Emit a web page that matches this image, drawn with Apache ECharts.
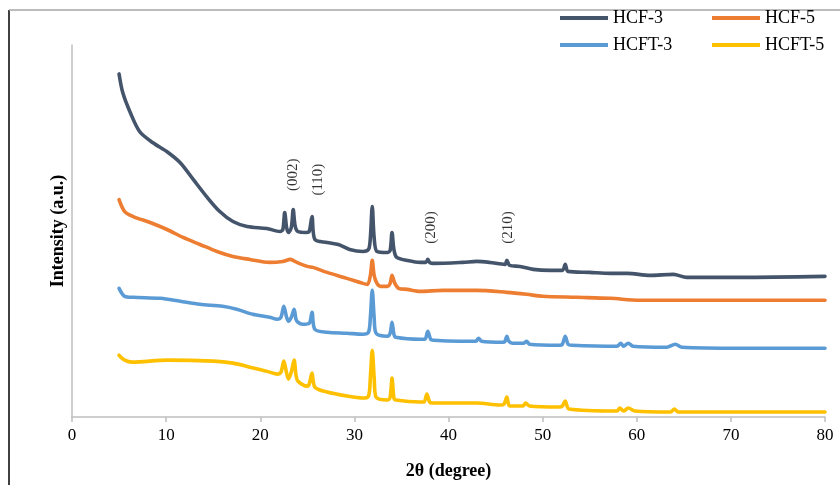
<!DOCTYPE html>
<html>
<head>
<meta charset="utf-8">
<script src="https://cdn.jsdelivr.net/npm/echarts@6/dist/echarts.min.js"></script>
<style>
  html, body { margin: 0; padding: 0; background: #fff; }
  #chart { width: 840px; height: 485px; }
</style>
</head>
<body>
<div id="chart"></div>
<script>
// XRD patterns, [2θ (degree), intensity (a.u., stacked offsets)]
const hcf3 = [
  [5.0, 344], [5.4, 325], [6.2, 305], [7.2, 286], [8.6, 275], [10.1, 266], [11.5, 255],
  [12.9, 238], [14.3, 221], [15.7, 206], [17.1, 196], [18.6, 191], [20.7, 189], [22.1, 186],
  [22.4, 188], [22.6, 205], [22.8, 190], [23.0, 185], [23.3, 190], [23.5, 208], [23.7, 192],
  [24.0, 186], [24.9, 185], [25.2, 186], [25.5, 201], [25.8, 178], [27.1, 175], [28.3, 173],
  [29.5, 168], [30.9, 166], [31.5, 168], [31.7, 180], [31.9, 211], [32.1, 180], [32.4, 166],
  [33.5, 165], [33.8, 167], [34.0, 185], [34.2, 168], [34.5, 160], [35.6, 157], [37.0, 155],
  [37.6, 155], [37.8, 158], [38.0, 155], [38.4, 154], [41.5, 155], [43.0, 156], [44.4, 155],
  [46.0, 153], [46.2, 157], [46.5, 152], [47.6, 151], [49.0, 148], [50.8, 147], [52.1, 147],
  [52.4, 153], [52.7, 146], [55.0, 145], [57.2, 144], [59.0, 144], [61.4, 142], [63.9, 143],
  [65.3, 140], [71.0, 140], [80.0, 141]
];
const hcf5 = [
  [5.0, 218], [5.6, 206], [6.5, 201], [8.3, 195], [10.1, 188], [11.8, 180], [13.6, 173],
  [15.4, 166], [17.1, 161], [18.9, 158], [21.0, 155], [22.4, 156], [23.2, 158], [23.9, 155],
  [25.0, 151], [25.6, 150], [27.1, 145], [29.2, 139], [30.9, 134], [31.4, 133], [31.7, 142],
  [31.9, 157], [32.1, 142], [32.4, 134], [32.8, 131], [33.5, 131], [33.8, 134], [34.0, 142],
  [34.3, 134], [34.7, 129], [35.6, 128], [37.0, 126], [39.4, 127], [43.0, 127], [46.2, 125],
  [48.3, 123], [50.0, 121], [53.6, 120], [57.2, 119], [60.3, 117], [63.9, 117], [80.0, 117]
];
const hcft3 = [
  [5.0, 129], [5.6, 121], [6.5, 120], [9.4, 119], [11.5, 116], [13.6, 113], [16.0, 111],
  [17.5, 108], [19.2, 103], [21.0, 100], [21.8, 98], [22.2, 100], [22.5, 111], [22.8, 100],
  [23.0, 96], [23.3, 100], [23.6, 108], [23.8, 98], [24.0, 95], [24.5, 93], [25.2, 94],
  [25.5, 105], [25.8, 88], [27.1, 85], [29.2, 84], [30.9, 83], [31.5, 85], [31.7, 100],
  [31.9, 127], [32.1, 100], [32.3, 84], [33.5, 81], [33.8, 84], [34.0, 95], [34.2, 83],
  [34.4, 80], [37.0, 78], [37.5, 78], [37.8, 86], [38.1, 78], [38.4, 77], [41.2, 76],
  [42.9, 76], [43.2, 79], [43.5, 76], [45.8, 75], [46.0, 76], [46.2, 81], [46.4, 76],
  [46.8, 74], [48.0, 74], [48.3, 76], [48.6, 73], [51.8, 72], [52.1, 73], [52.4, 81],
  [52.7, 73], [53.1, 72], [57.9, 71], [58.3, 74], [58.6, 71], [59.1, 74], [59.6, 71],
  [63.2, 70], [64.1, 73], [64.8, 70], [71.0, 69], [80.0, 69]
];
const hcft5 = [
  [5.0, 62], [5.6, 57], [6.4, 55], [10.1, 57], [15.0, 56], [17.1, 54], [18.9, 50],
  [21.0, 45], [21.8, 43], [22.2, 45], [22.5, 56], [22.8, 44], [23.0, 38], [23.3, 45],
  [23.6, 57], [23.8, 42], [24.0, 36], [25.0, 31], [25.2, 33], [25.5, 44], [25.8, 30],
  [27.1, 25], [29.2, 21], [30.9, 19], [31.5, 21], [31.7, 40], [31.9, 67], [32.1, 40],
  [32.3, 20], [33.5, 17], [33.8, 20], [34.0, 39], [34.2, 19], [34.4, 17], [37.0, 15],
  [37.4, 15], [37.7, 23], [38.0, 15], [38.3, 14], [43.0, 14], [45.5, 12], [45.9, 13],
  [46.2, 20], [46.5, 11], [47.9, 11], [48.2, 14], [48.6, 11], [51.8, 10], [52.1, 11],
  [52.4, 16], [52.8, 8], [57.9, 6], [58.2, 9], [58.6, 6], [59.1, 9], [59.8, 6],
  [63.6, 5], [64.0, 8], [64.4, 5], [71.0, 5], [80.0, 5]
];

// Miller index labels placed above the reflections
const planes = [
  ['(002)', 23.5, 243],
  ['(110)', 26.1, 238],
  ['(200)', 38.2, 190],
  ['(210)', 46.3, 190]
];

const xTicks = [0, 10, 20, 30, 40, 50, 60, 70, 80];

const seriesNames = ['HCF-3', 'HCF-5', 'HCFT-3', 'HCFT-5'];
const seriesColors = ['#44546A', '#ED7D31', '#5B9BD5', '#FFC000'];
const seriesData = [hcf3, hcf5, hcft3, hcft5];

const serif = '"Times New Roman", "Liberation Serif", "DejaVu Serif", serif';

const chart = echarts.init(document.getElementById('chart'), null, { renderer: 'canvas' });

const legendPos = [[560, 9], [712, 9], [560, 36], [712, 36]];

const option = {
  animation: false,
  backgroundColor: '#ffffff',
  grid: { left: 72, right: 15, top: 45, bottom: 67, containLabel: false },
  legend: seriesNames.map((n, i) => ({
    data: [n],
    left: legendPos[i][0],
    top: legendPos[i][1],
    icon: 'rect',
    itemWidth: 48,
    itemHeight: 4,
    padding: 0,
    selectedMode: false,
    textStyle: { fontFamily: serif, fontSize: 18, color: '#000' }
  })),
  xAxis: {
    type: 'value',
    min: 0,
    max: 80,
    interval: 10,
    name: '2θ (degree)',
    nameLocation: 'middle',
    nameGap: 45,
    nameTextStyle: { fontFamily: serif, fontSize: 18, fontWeight: 'bold', color: '#000' },
    axisLine: { show: true, lineStyle: { color: '#BFBFBF', width: 1.5 } },
    axisTick: { show: true, length: 5, lineStyle: { color: '#BFBFBF', width: 1.5 } },
    axisLabel: {
      margin: 10,
      fontFamily: serif,
      fontSize: 17,
      color: '#000',
      formatter: v => (xTicks.includes(v) ? String(v) : '')
    },
    splitLine: { show: false }
  },
  yAxis: {
    type: 'value',
    min: 0,
    max: 373,
    name: 'Intensity (a.u.)',
    nameLocation: 'middle',
    nameGap: 5,
    nameTextStyle: { fontFamily: serif, fontSize: 18, fontWeight: 'bold', color: '#000' },
    axisLine: { show: true, lineStyle: { color: '#BFBFBF', width: 1.5 } },
    axisTick: { show: false },
    axisLabel: { show: false },
    splitLine: { show: false }
  },
  graphic: [
    { type: 'line', shape: { x1: 9, y1: 10, x2: 9, y2: 485 }, style: { stroke: '#000', lineWidth: 1.5 } },
    { type: 'line', shape: { x1: 9, y1: 10, x2: 840, y2: 10 }, style: { stroke: '#A6A6A6', lineWidth: 1.5 } }
  ],
  series: seriesNames.map((n, i) => ({
    name: n,
    type: 'line',
    data: seriesData[i],
    symbol: 'none',
    smooth: 0.3,
    color: seriesColors[i],
    lineStyle: { width: 3.6, color: seriesColors[i], join: 'round', cap: 'round' },
    z: 4 - i
  })).concat([{
    name: 'planes',
    type: 'scatter',
    data: planes.map(p => ({ name: p[0], value: [p[1], p[2]] })),
    symbolSize: 0,
    silent: true,
    label: {
      show: true,
      position: 'inside',
      rotate: 90,
      formatter: p => p.name,
      fontFamily: serif,
      fontSize: 15,
      color: '#000'
    }
  }])
};

chart.setOption(option);
</script>
</body>
</html>
